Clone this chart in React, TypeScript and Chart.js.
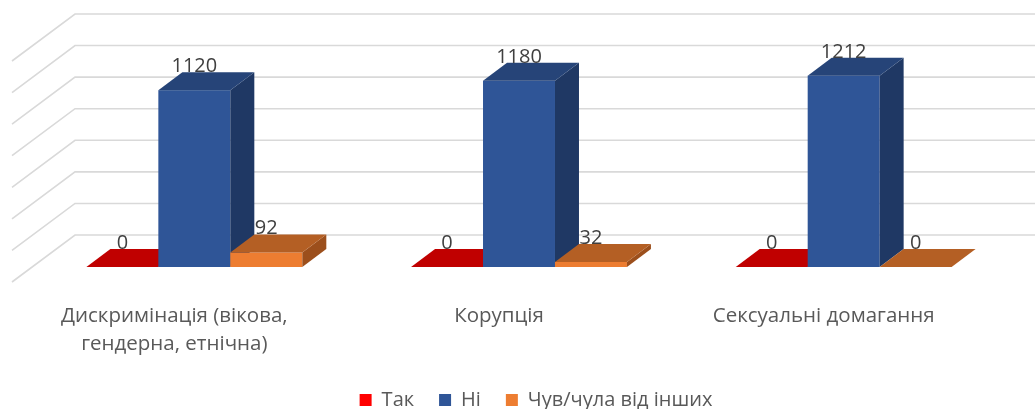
import React, { useEffect, useRef } from "react";
import { Chart, registerables } from "chart.js";

Chart.register(...registerables);

// ---- data ----
const categories: (string | string[])[] = [
  ["Дискримінація (вікова,", "гендерна, етнічна)"],
  "Корупція",
  "Сексуальні домагання",
];
const seriesNames = ["Так", "Ні", "Чув/чула від інших"];
const takValues = [0, 0, 0];
const niValues = [1120, 1180, 1212];
const heardValues = [92, 32, 0];
const yTicks = [0, 200, 400, 600, 800, 1000, 1200, 1400];

// ---- styles ----
const frontColors = ["#FF0000", "#2F5597", "#ED7D31"];
const topColors = ["#C00000", "#264478", "#B45F24"];
const sideColors = ["#A00000", "#1F3864", "#9C4F1C"];
const FONT = "'Open Sans'";

const DX = 24; // bar depth
const DY = 18;
const WALL_DX = 43;
const WALL_DY = 32;
const FLOOR_DX = 20;
const FLOOR_DY = 15;

const threeD = {
  id: "threeD",
  afterLayout(chart: any) {
    const lg = chart.legend;
    if (lg) {
      lg.left += 17;
      lg.right += 17;
    }
  },
  beforeDatasetsDraw(chart: any) {
    const { ctx, chartArea, scales } = chart;
    const y = scales.y;
    ctx.save();
    ctx.strokeStyle = "#D9D9D9";
    ctx.lineWidth = 1.6;
    for (const v of yTicks) {
      const py = y.getPixelForValue(v);
      ctx.beginPath();
      ctx.moveTo(chartArea.left - FLOOR_DX, py + FLOOR_DY);
      ctx.lineTo(chartArea.left + WALL_DX, py - WALL_DY);
      ctx.lineTo(chart.width, py - WALL_DY);
      ctx.stroke();
    }
    ctx.restore();
  },
  beforeDatasetDraw() {
    return false;
  },
  afterDatasetsDraw(chart: any) {
    const { ctx } = chart;
    const n = chart.data.labels.length;
    const metas = chart.data.datasets.map((_: any, i: number) => chart.getDatasetMeta(i));
    ctx.save();
    for (let i = 0; i < n; i++) {
      metas.forEach((meta: any, d: number) => {
        const el = meta.data[i];
        const { x, y, base, width } = el.getProps(["x", "y", "base", "width"], true);
        const l = x - width / 2;
        const r = x + width / 2;
        const top = Math.min(y, base);
        const bot = Math.max(y, base);
        if (bot - top > 0.3) {
          ctx.fillStyle = frontColors[d];
          ctx.fillRect(l, top, r - l, bot - top);
          ctx.fillStyle = sideColors[d];
          ctx.beginPath();
          ctx.moveTo(r, bot);
          ctx.lineTo(r + DX, bot - DY);
          ctx.lineTo(r + DX, top - DY);
          ctx.lineTo(r, top);
          ctx.closePath();
          ctx.fill();
        }
        ctx.fillStyle = topColors[d];
        ctx.beginPath();
        ctx.moveTo(l, top);
        ctx.lineTo(r, top);
        ctx.lineTo(r + DX, top - DY);
        ctx.lineTo(l + DX, top - DY);
        ctx.closePath();
        ctx.fill();
      });
    }
    ctx.font = `20px ${FONT}`;
    ctx.fillStyle = "#404040";
    ctx.textAlign = "center";
    ctx.textBaseline = "alphabetic";
    metas.forEach((meta: any, d: number) => {
      meta.data.forEach((el: any, i: number) => {
        const v = chart.data.datasets[d].data[i];
        const { x, y, base } = el.getProps(["x", "y", "base"], true);
        ctx.fillText(String(v), x, Math.min(y, base) - DY);
      });
    });
    ctx.restore();
  },
};

export default function App() {
  const ref = useRef<HTMLCanvasElement | null>(null);
  useEffect(() => {
    if (!ref.current) return;
    const chart = new Chart(ref.current, {
      type: "bar",
      data: {
        labels: categories as any,
        datasets: [takValues, niValues, heardValues].map((vals, i) => ({
          label: seriesNames[i],
          data: vals,
          backgroundColor: frontColors[i],
          borderWidth: 0,
          categoryPercentage: 0.665,
          barPercentage: 1,
        })),
      },
      options: {
        responsive: false,
        animation: false,
        layout: { padding: { left: 32, right: 29, top: 46, bottom: -11 } },
        plugins: {
          legend: {
            position: "bottom",
            labels: {
              boxWidth: 12,
              boxHeight: 12,
              padding: 25,
              color: "#595959",
              font: { size: 20, family: FONT },
            },
          },
          tooltip: { enabled: false },
        },
        scales: {
          x: {
            grid: { display: false, drawTicks: false },
            border: { display: false },
            ticks: {
              color: "#595959",
              font: { size: 20.5, family: FONT, lineHeight: 1.33 },
              padding: 36,
              labelOffset: -20,
              maxRotation: 0,
              autoSkip: false,
            },
            afterFit: (s: any) => {
              s.height = 98;
            },
          },
          y: {
            display: false,
            min: 0,
            max: 1400,
            ticks: { stepSize: 200 },
          },
        },
      },
      plugins: [threeD],
    } as any);
    return () => chart.destroy();
  }, []);
  return (
    <div style={{ position: "fixed", left: 0, top: 0, width: 1035, height: 409, background: "#fff" }}>
      <canvas ref={ref} width={1035} height={409} style={{ display: "block" }} />
    </div>
  );
}
